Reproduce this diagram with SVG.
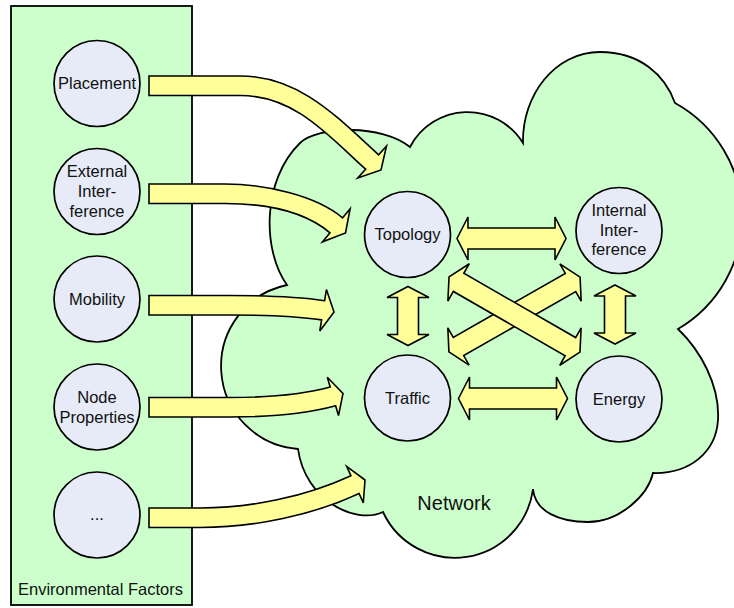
<svg xmlns="http://www.w3.org/2000/svg" width="734" height="608" viewBox="0 0 734 608">
<style>
.area{fill:#ccffcc;stroke:#000;stroke-width:1.8}
.node{fill:#e6ebf7;stroke:#000;stroke-width:1.7}
.arr{fill:#ffff99;stroke:#000;stroke-width:1.6;stroke-linejoin:miter}
text{font-family:"Liberation Sans",Arial,sans-serif;font-size:16.5px;fill:#111;text-anchor:middle}
.big{font-size:20px}
</style>
<defs>
<path id="dblh" d="M-54.5,0 L-43.5,-21.5 L-43.5,-10.5 L43.5,-10.5 L43.5,-21.5 L54.5,0 L43.5,21.5 L43.5,10.5 L-43.5,10.5 L-43.5,21.5 Z"/>
<path id="dblv" d="M-29.5,0 L-18.5,-21 L-18.5,-10.5 L18.5,-10.5 L18.5,-21 L29.5,0 L18.5,21 L18.5,10.5 L-18.5,10.5 L-18.5,21 Z"/>
<path id="dblx" d="M-75.5,0 L-64.5,-21.5 L-64.5,-10.5 L64.5,-10.5 L64.5,-21.5 L75.5,0 L64.5,21.5 L64.5,10.5 L-64.5,10.5 L-64.5,21.5 Z"/>
</defs>

<g id="environmental-factors">
<rect class="area" x="11" y="6" width="181" height="599"/>
<text x="100.5" y="594.5">Environmental Factors</text>
</g>

<g id="network">
<path class="area" d="M410,147 A65,65 0 0 1 523,143 C522,95 555,52 600,52 C640,52 665,75 675,103 A130,130 0 0 1 678,329 C700,350 720,385 718,420 C716,452 690,474 653,473 C648,495 620,522 588,522 C560,522 535,512 533,489 A79,79 0 0 1 383,512 C355,525 305,500 298,449 A83,83 0 0 1 287,285 C262,250 262,180 300,143 C318,126 382,124 410,147 Z"/>
<text class="big" x="454" y="510">Network</text>
</g>

<g id="placement"><circle class="node" cx="97" cy="83.5" r="43"/><text x="97" y="89">Placement</text></g>
<g id="external-interference"><circle class="node" cx="97" cy="191.5" r="43"/><text x="97" y="177">External</text><text x="97" y="197">Inter-</text><text x="97" y="217">ference</text></g>
<g id="mobility"><circle class="node" cx="97" cy="299" r="43"/><text x="97" y="304.5">Mobility</text></g>
<g id="node-properties"><circle class="node" cx="97" cy="407" r="43"/><text x="97" y="402.5">Node</text><text x="97" y="422.5">Properties</text></g>
<g id="more"><circle class="node" cx="97" cy="515" r="43"/><text x="97" y="520">...</text></g>

<g id="topology"><circle class="node" cx="407.5" cy="234.5" r="43"/><text x="407.5" y="240">Topology</text></g>
<g id="internal-interference"><circle class="node" cx="619" cy="230.5" r="43"/><text x="619" y="216">Internal</text><text x="619" y="235.5">Inter-</text><text x="619" y="255">ference</text></g>
<g id="traffic"><circle class="node" cx="407.5" cy="398" r="43"/><text x="407.5" y="403.5">Traffic</text></g>
<g id="energy"><circle class="node" cx="619" cy="399" r="43"/><text x="619" y="404.5">Energy</text></g>

<g id="connectors">
<path class="arr" d="M149,76 L240,76 C300,76 338,118 378.6,154.8 L386.5,146 L381,170 L357.7,178 L365.6,169.2 C328.5,135.8 295,95.5 240,95.5 L149,95.5 Z"/>
<path class="arr" d="M149,184 L225,184 C265,184 315.8,195.3 342.6,217.8 L350.1,208.8 L345.5,233 L322.5,241.8 L330,232.8 C303.2,210.3 262,203.5 225,203.5 L149,203.5 Z"/>
<path class="arr" d="M149,295.5 L230,295.5 C270,295.5 300,297 324.6,300.7 L326.4,289.6 L334,312 L319.8,331 L321.6,319.9 C298,316.5 270,315 230,315 L149,315 Z"/>
<path class="arr" d="M149,397.5 L230,397.5 C270,397.5 305,394 330.2,387 L327.3,377.2 L343,393.5 L338.5,415.6 L335.6,405.8 C308,413.5 270,417 230,417 L149,417 Z"/>
<path class="arr" d="M149,508 L200,508 C250,508 305,497 350.9,475.7 L346.7,466.4 L365,480 L363.3,502.8 L359.1,493.5 C313,515 255,527.5 200,527.5 L149,527.5 Z"/>
<use href="#dblh" class="arr" transform="translate(511.5,238.5)"/>
<use href="#dblh" class="arr" transform="translate(513,398.5)"/>
<use href="#dblv" class="arr" transform="translate(408,316) rotate(90)"/>
<use href="#dblv" class="arr" transform="translate(615,314.5) rotate(90)"/>
<use href="#dblx" class="arr" transform="translate(514.5,314.5) rotate(-29.7)"/>
<use href="#dblx" class="arr" transform="translate(514.5,314.5) rotate(29.9)"/>
</g>
</svg>
